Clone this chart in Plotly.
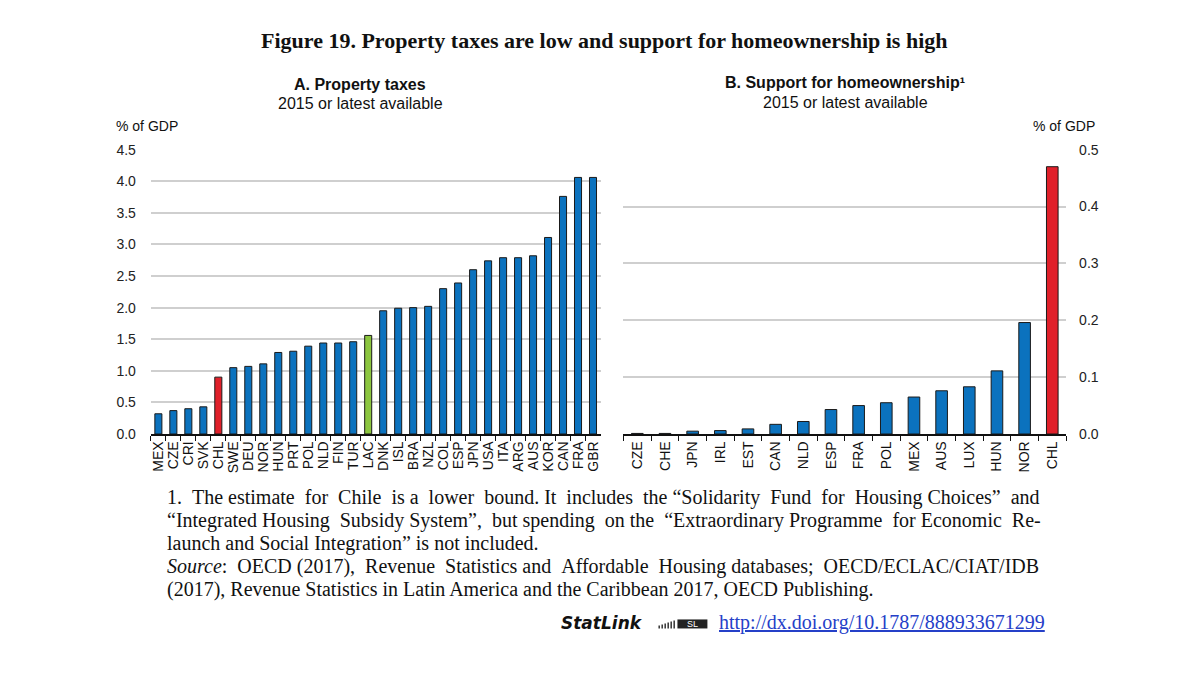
import plotly.graph_objects as go

# ---- Data ----
a_countries = ["MEX","CZE","CRI","SVK","CHL","SWE","DEU","NOR","HUN","PRT","POL","NLD","FIN","TUR","LAC",
               "DNK","ISL","BRA","NZL","COL","ESP","JPN","USA","ITA","ARG","AUS","KOR","CAN","FRA","GBR"]
a_values = [0.32,0.37,0.40,0.43,0.90,1.05,1.07,1.11,1.29,1.31,1.39,1.44,1.44,1.46,1.56,
            1.95,1.99,2.00,2.02,2.30,2.39,2.60,2.74,2.79,2.79,2.82,3.11,3.76,4.06,4.06]
b_countries = ["CZE","CHE","JPN","IRL","EST","CAN","NLD","ESP","FRA","POL","MEX","AUS","LUX","HUN","NOR","CHL"]
b_values = [0.001,0.001,0.005,0.006,0.009,0.017,0.022,0.043,0.050,0.055,0.065,0.076,0.083,0.111,0.196,0.470]
a_ticks = [0,0.5,1.0,1.5,2.0,2.5,3.0,3.5,4.0,4.5]
b_ticks = [0,0.1,0.2,0.3,0.4,0.5]

BLUE = "#0B72BE"
RED = "#E0202A"
GREEN = "#8CC63F"
def col(c):
    if c == "CHL":
        return RED
    if c == "LAC":
        return GREEN
    return BLUE

W, H = 1200, 675
def px(x): return x / W
# compensate for the vertical offset/squeeze observed in the rendered page
def py(y): return 1 - ((y - 8) / 0.974) / H

SANS = "Liberation Sans, Arial"
SERIF = "Liberation Serif, Times New Roman"

fig = go.Figure()
fig.add_trace(go.Bar(x=a_countries, y=a_values, marker=dict(color=[col(c) for c in a_countries],
                     line=dict(color="#1a1a1a", width=1)), xaxis="x", yaxis="y", showlegend=False))
fig.add_trace(go.Bar(x=b_countries, y=b_values, width=0.42, marker=dict(color=[col(c) for c in b_countries],
                     line=dict(color="#1a1a1a", width=1)), xaxis="x2", yaxis="y2", showlegend=False))

ydom = [py(433), py(149.3)]
fig.update_layout(
    width=W, height=H, margin=dict(l=0, r=0, t=0, b=0),
    paper_bgcolor="white", plot_bgcolor="white",
    bargap=0.53,
    xaxis=dict(domain=[px(150), px(600)], anchor="y", type="category", range=[-0.5, len(a_countries)-0.5],
               tickmode="array", tickvals=a_countries, ticktext=a_countries,
               tickangle=-90, tickfont=dict(family=SANS, size=14, color="#111"),
               showline=True, linecolor="#111", linewidth=1.5, ticks="outside", tickson="boundaries",
               ticklen=5, tickcolor="#111", tickwidth=1, showgrid=False),
    yaxis=dict(domain=ydom, anchor="x", range=[0, 4.5], tickvals=a_ticks,
               ticktext=[f"{v:.1f}" for v in a_ticks], tickfont=dict(family=SANS, size=14, color="#222"),
               showgrid=True, gridcolor="#CFCFCF", gridwidth=1.5, zeroline=False, showline=False,
               ticklabelstandoff=14),
    xaxis2=dict(domain=[px(623), px(1066)], anchor="y2", type="category", range=[-0.5, len(b_countries)-0.5],
                tickmode="array", tickvals=b_countries, ticktext=b_countries,
                tickangle=-90, tickfont=dict(family=SANS, size=14, color="#111"),
                showline=True, linecolor="#111", linewidth=1.5, ticks="outside", tickson="boundaries",
                ticklen=5, tickcolor="#111", tickwidth=1, showgrid=False),
    yaxis2=dict(domain=ydom, anchor="x2", side="right", range=[0, 0.5], tickvals=b_ticks,
                ticktext=[f"{v:.1f}" for v in b_ticks], tickfont=dict(family=SANS, size=14, color="#222"),
                showgrid=True, gridcolor="#CFCFCF", gridwidth=1.5, zeroline=False, showline=False,
                ticklabelstandoff=12),
)

anns = []
def ann(text, x, y, size, family, xanchor="center", color="#111"):
    anns.append(dict(text=text, x=px(x), y=py(y), xref="paper", yref="paper", showarrow=False,
                     xanchor=xanchor, yanchor="middle", font=dict(size=size, family=family, color=color)))

ann("<b>Figure 19. Property taxes are low and support for homeownership is high</b>", 604, 40, 22, SERIF)
ann("<b>A. Property taxes</b>", 359, 84, 16, SANS)
ann("2015 or latest available", 360, 103, 16, SANS)
ann("<b>B. Support for homeownership¹</b>", 845, 82, 16, SANS)
ann("2015 or latest available", 845, 102, 16, SANS)
ann("% of GDP", 113, 126, 14, SANS, xanchor="left")
ann("% of GDP", 1097, 126, 14, SANS, xanchor="right")

def justify(text, extra):
    words = text.split(" ")
    gaps = len(words) - 1
    out = words[0]
    acc = 0.0
    for i in range(1, len(words)):
        acc += extra / gaps
        n = int(round(acc))
        acc -= n
        out += " " + "\u00a0" * n + words[i]
    return out

foot = [
    ("1. The estimate for Chile is a lower bound. It includes the “Solidarity Fund for Housing Choices” and", 12),
    ("“Integrated Housing Subsidy System”, but spending on the “Extraordinary Programme for Economic Re-", 6),
    ("launch and Social Integration” is not included.", 0),
    ("<i>Source</i>: OECD (2017), Revenue Statistics and Affordable Housing databases; OECD/ECLAC/CIAT/IDB", 6),
    ("(2017), Revenue Statistics in Latin America and the Caribbean 2017, OECD Publishing.", 0),
]
for i, (t, e) in enumerate(foot):
    ann(justify(t, e), 164, 496 + 23 * i, 20, SERIF, xanchor="left")

ann("<b><i>StatLink</i></b>", 645, 622, 17, "DejaVu Sans, Verdana", xanchor="right")
ann("<u>http://dx.doi.org/10.1787/888933671299</u>", 717, 621, 20, SERIF, xanchor="left", color="#2540C8")

# small StatLink icon
shapes = []
for k in range(6):
    shapes.append(dict(type="rect", xref="paper", yref="paper", x0=px(658 + 3 * k), x1=px(659.5 + 3 * k),
                       y0=py(627), y1=py(624 - k), fillcolor="#333", line=dict(width=0)))
shapes.append(dict(type="rect", xref="paper", yref="paper", x0=px(677), x1=px(707), y0=py(627), y1=py(618),
                   fillcolor="#222", line=dict(width=0)))
ann("SL", 692, 622.5, 9, SANS, color="white")
fig.update_layout(annotations=anns, shapes=shapes)

fig.write_html("out.html")
